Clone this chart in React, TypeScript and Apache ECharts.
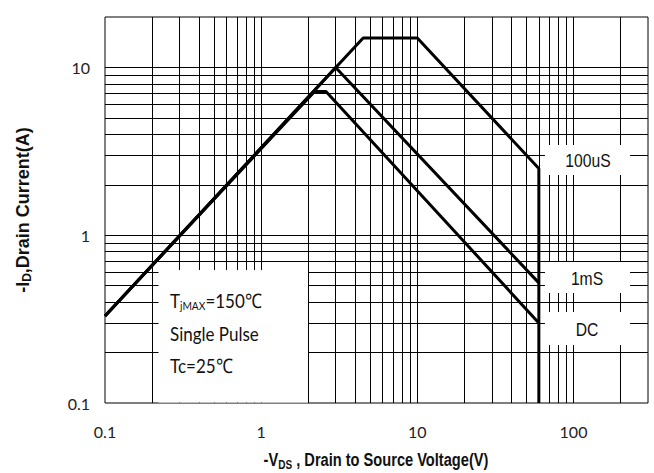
import React, { useEffect, useRef } from "react";
import * as echarts from "echarts";

// Safe operating area curves (V_DS in V, I_D in A)
const dcCurve: [number, number][] = [[0.1, 0.33], [2.2, 7.2], [2.6, 7.2], [60, 0.3]];
const ms1Curve: [number, number][] = [[0.1, 0.33], [3, 10], [60, 0.52]];
const us100Curve: [number, number][] = [[0.1, 0.33], [4.5, 15], [10, 15], [60, 2.5], [60, 0.1]];

// Axis extents and log grid lines
const xRange = [0.1, 300];
const yRange = [0.1, 20];
const xGridValues = [0.2, 0.3, 0.4, 0.5, 0.6, 0.7, 0.8, 0.9, 1, 2, 3, 4, 5, 6, 7, 8, 9, 10, 20, 30, 40, 50, 60, 70, 80, 90, 100, 200];
const yGridValues = [0.2, 0.3, 0.4, 0.5, 0.6, 0.7, 0.8, 0.9, 1, 2, 3, 4, 5, 6, 7, 8, 9, 10];

const curveLabels = ["100uS", "1mS", "DC"];
const noteLines = ["TjMAX=150℃", "Single Pulse", "Tc=25℃"];

const fmt = (v: number) => (v < 1 ? v.toFixed(1) : String(Math.round(v)));

export default function App() {
  const ref = useRef<HTMLDivElement>(null);
  useEffect(() => {
    document.body.style.margin = "0";
    if (!ref.current) return;
    const chart = echarts.init(ref.current, undefined, { renderer: "svg" });
    const gridLine = { color: "#000", width: 1, type: "solid" as const };
    const curveStyle = { color: "#000", width: 3 };
    const labelFont = "Liberation Sans, Arial, sans-serif";
    const noteFont = "Lato, 'Open Sans', sans-serif";
    const whiteRect = (x: number, y: number, w: number, h: number) => ({
      type: "rect",
      z: 100,
      shape: { x, y, width: w, height: h },
      style: { fill: "#fff" },
      silent: true,
    });
    const boxLabel = (text: string, x: number, y: number) => ({
      type: "text",
      z: 101,
      x,
      y,
      scaleX: 0.87,
      style: {
        text,
        fontSize: 18,
        fontFamily: labelFont,
        fill: "#111",
        align: "center",
        verticalAlign: "middle",
        textAlign: "center",
        textVerticalAlign: "middle",
      },
    });
    const noteRich = {
      a: { fontSize: 20, fontFamily: noteFont, fill: "#111", lineHeight: 22 },
      b: { fontSize: 12, fontFamily: noteFont, fill: "#111", lineHeight: 12, verticalAlign: "bottom" },
    };
    const noteText = (text: string, y: number) => ({
      type: "text",
      z: 101,
      x: 170,
      y,
      scaleX: 0.85,
      style: {
        text,
        rich: noteRich,
        align: "left",
        verticalAlign: "middle",
        textAlign: "left",
        textVerticalAlign: "middle",
      },
    });

    chart.setOption({
      animation: false,
      grid: {
        left: 105,
        right: 6,
        top: 17,
        bottom: 70,
        show: true,
        borderColor: "#000",
        borderWidth: 1,
        backgroundColor: "transparent",
      },
      xAxis: {
        type: "log",
        logBase: 10,
        min: xRange[0],
        max: xRange[1],
        axisLine: { show: false },
        axisTick: { show: false },
        splitLine: { show: false },
        axisLabel: {
          fontSize: 16,
          fontFamily: noteFont,
          color: "#222",
          margin: 20,
          showMaxLabel: false,
          formatter: (v: number) => fmt(v),
        },
      },
      yAxis: {
        type: "log",
        logBase: 10,
        min: yRange[0],
        max: yRange[1],
        axisLine: { show: false },
        axisTick: { show: false },
        splitLine: { show: false },
        axisLabel: {
          fontSize: 16,
          fontFamily: noteFont,
          color: "#222",
          margin: 15,
          showMaxLabel: false,
          formatter: (v: number) => fmt(v),
        },
      },
      series: [
        {
          type: "line",
          name: "grid",
          z: 1,
          data: [[0.1, 0.1]],
          showSymbol: false,
          symbol: "none",
          lineStyle: { width: 0 },
          silent: true,
          markLine: {
            silent: true,
            symbol: ["none", "none"],
            label: { show: false },
            lineStyle: gridLine,
            emphasis: { disabled: true },
            data: [
              ...xGridValues.map((v) => ({ xAxis: v })),
              ...yGridValues.map((v) => ({ yAxis: v })),
            ],
          },
        },
        {
          type: "line",
          name: curveLabels[2],
          z: 5,
          data: dcCurve,
          symbol: "none",
          lineStyle: curveStyle,
          silent: true,
        },
        {
          type: "line",
          name: curveLabels[1],
          z: 5,
          data: ms1Curve,
          symbol: "none",
          lineStyle: curveStyle,
          silent: true,
        },
        {
          type: "line",
          name: curveLabels[0],
          z: 5,
          data: us100Curve,
          symbol: "none",
          lineStyle: curveStyle,
          silent: true,
        },
      ],
      graphic: [
        whiteRect(545, 145, 85, 30),
        whiteRect(545, 262, 85, 31),
        whiteRect(545, 312, 85, 33),
        whiteRect(158.5, 270, 149.5, 132.5),
        boxLabel(curveLabels[0], 588, 161),
        boxLabel(curveLabels[1], 587, 279),
        boxLabel(curveLabels[2], 587, 330),
        noteText("{a|T}{b|jMAX}{a|=150℃}", 300),
        noteText("{a|" + noteLines[1] + "}", 333),
        noteText("{a|" + noteLines[2] + "}", 365),
        {
          type: "text",
          z: 101,
          x: 23,
          y: 210,
          rotation: Math.PI / 2,
          style: {
            text: "{a|-I}{b|D}{a|,Drain Current(A)}",
            rich: {
              a: { fontSize: 18, fontWeight: "bold", fontFamily: labelFont, fill: "#111", lineHeight: 20 },
              b: { fontSize: 12, fontWeight: "bold", fontFamily: labelFont, fill: "#111", lineHeight: 12, verticalAlign: "bottom" },
            },
            align: "center",
            verticalAlign: "middle",
            textAlign: "center",
            textVerticalAlign: "middle",
          },
        },
        {
          type: "text",
          z: 101,
          x: 376,
          y: 460,
          scaleX: 0.77,
          style: {
            text: "{a|-V}{b|DS}{a| , Drain to Source Voltage(V)}",
            rich: {
              a: { fontSize: 19, fontWeight: "bold", fontFamily: labelFont, fill: "#111", lineHeight: 21 },
              b: { fontSize: 13, fontWeight: "bold", fontFamily: labelFont, fill: "#111", lineHeight: 13, verticalAlign: "bottom" },
            },
            align: "center",
            verticalAlign: "middle",
            textAlign: "center",
            textVerticalAlign: "middle",
          },
        },
      ],
    });
    return () => chart.dispose();
  }, []);
  return <div ref={ref} style={{ width: 654, height: 473 }} />;
}
